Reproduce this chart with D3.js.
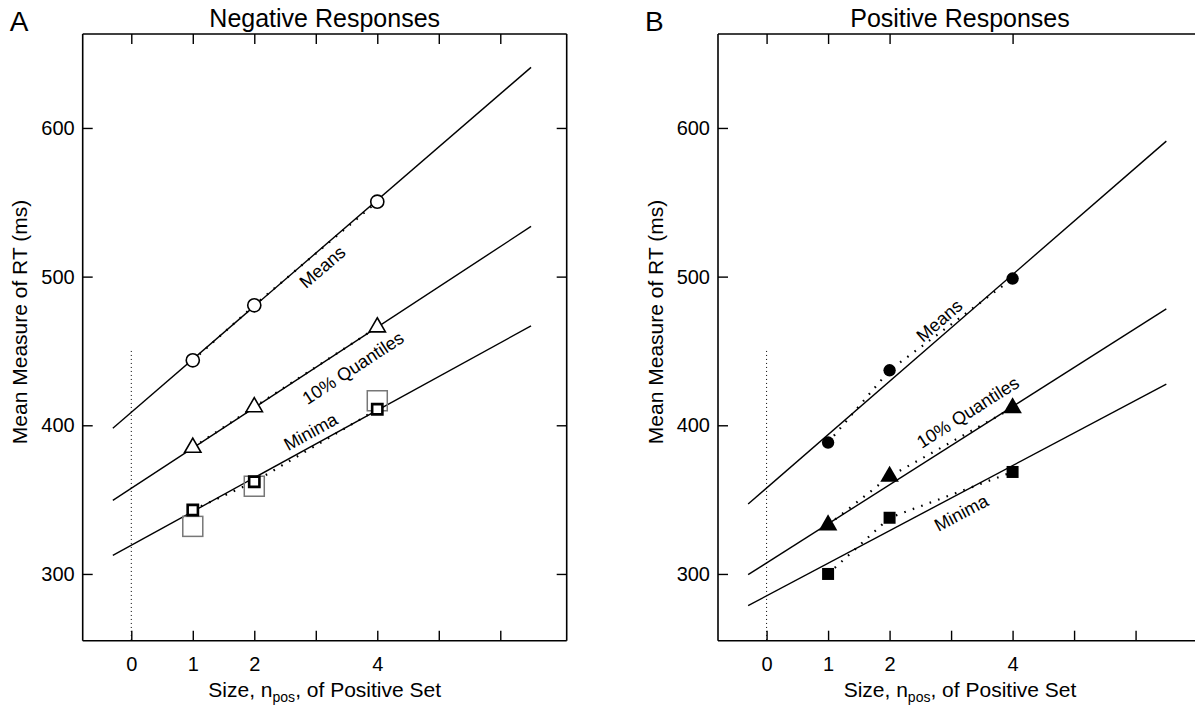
<!DOCTYPE html>
<html>
<head>
<meta charset="utf-8">
<script src="https://cdn.jsdelivr.net/npm/d3@7"></script>
<style>
  html, body { margin: 0; padding: 0; background: #fff; }
  svg { display: block; font-family: "Liberation Sans", Arial, Helvetica, sans-serif; }
</style>
</head>
<body>
<svg id="chart" width="1195" height="707"></svg>
<script>
// ---------- DATA ----------
const setSizes = [1, 2, 4];
const xTickValues = [0, 1, 2, 3, 4, 5, 6];
const xTickLabels = ["0", "1", "2", "", "4", "", ""];
const yTickValues = [300, 400, 500, 600];

// Panel A: negative responses
const negMeans = [443.7, 480.7, 550.4];
const negQ10 = [385.0, 412.3, 466.0];
const negMinima = [343.0, 362.0, 410.8];
const negMinimaAlt = [332.0, 359.0, 416.5];
// fitted lines [intercept, slope]
const negMeansFit = [408.7, 35.7];
const negQ10Fit = [357.6, 27.1];
const negMinimaFit = [319.3, 22.7];

// Panel B: positive responses
const posMeans = [388.4, 437.0, 498.7];
const posQ10 = [332.9, 365.6, 411.7];
const posMinima = [300.0, 337.8, 368.6];
const posMeansFit = [357.8, 35.9];
const posQ10Fit = [307.4, 26.3];
const posMinimaFit = [285.3, 21.9];

const fitRange = [-0.3, 6.5];
const lineLabels = ["Means", "10% Quantiles", "Minima"];
const zeroLineTop = 450;

// ---------- LAYOUT ----------
const svg = d3.select("#chart");
const xDomain = [-0.79, 7.08];
const yDomain = [255.1, 663.2];
const frameTop = 34, frameBottom = 640.7;

const panels = [
  {
    letter: "A", title: "Negative Responses", left: 82.7, right: 566.7,
    series: [negMeans, negQ10, negMinima], fits: [negMeansFit, negQ10Fit, negMinimaFit],
    alt: negMinimaAlt, filled: false, topTicks: xTickValues,
    labelX: [2.95, 3.42, 3.02], labelOff: [-15, -21, 13], rightAxis: true
  },
  {
    letter: "B", title: "Positive Responses", left: 718, right: 1202,
    series: [posMeans, posQ10, posMinima], fits: [posMeansFit, posQ10Fit, posMinimaFit],
    alt: null, filled: true, topTicks: [0, 1, 2, 4],
    labelX: [2.95, 3.44, 3.03], labelOff: [13, 19, -18], rightAxis: false
  }
];

const shapes = [d3.symbolCircle, d3.symbolTriangle, d3.symbolSquare];

panels.forEach(p => {
  const x = d3.scaleLinear().domain(xDomain).range([p.left, p.right]);
  const y = d3.scaleLinear().domain(yDomain).range([frameBottom, frameTop]);
  const g = svg.append("g");

  // frame
  g.append("line").attr("x1", p.left).attr("x2", p.right).attr("y1", frameBottom).attr("y2", frameBottom)
    .attr("stroke", "#000").attr("stroke-width", 1.6);
  g.append("line").attr("x1", p.left).attr("x2", p.right).attr("y1", frameTop).attr("y2", frameTop)
    .attr("stroke", "#000").attr("stroke-width", 1.6);
  g.append("line").attr("x1", p.left).attr("x2", p.left).attr("y1", frameTop).attr("y2", frameBottom)
    .attr("stroke", "#000").attr("stroke-width", 1.6);
  if (p.rightAxis) {
    g.append("line").attr("x1", p.right).attr("x2", p.right).attr("y1", frameTop).attr("y2", frameBottom)
      .attr("stroke", "#000").attr("stroke-width", 1.6);
  }

  // axes via d3
  const xb = d3.axisBottom(x).tickValues(xTickValues).tickSizeInner(-10).tickSizeOuter(0)
    .tickFormat(d => xTickLabels[xTickValues.indexOf(d)]).tickPadding(16);
  const ax = g.append("g").attr("transform", `translate(0,${frameBottom})`).call(xb);
  ax.select(".domain").remove();
  ax.selectAll("line").attr("stroke", "#000").attr("stroke-width", 1.4);
  ax.selectAll("text").attr("font-size", 20).attr("fill", "#000");

  const xt = d3.axisTop(x).tickValues(p.topTicks).tickSizeInner(-10).tickSizeOuter(0).tickFormat("");
  const axt = g.append("g").attr("transform", `translate(0,${frameTop})`).call(xt);
  axt.select(".domain").remove();
  axt.selectAll("line").attr("stroke", "#000").attr("stroke-width", 1.4);

  const yl = d3.axisLeft(y).tickValues(yTickValues).tickSizeInner(-10).tickSizeOuter(0)
    .tickFormat(d3.format("d")).tickPadding(8);
  const ay = g.append("g").attr("transform", `translate(${p.left},0)`).call(yl);
  ay.select(".domain").remove();
  ay.selectAll("line").attr("stroke", "#000").attr("stroke-width", 1.4);
  ay.selectAll("text").attr("font-size", 20).attr("fill", "#000");

  if (p.rightAxis) {
    const yr = d3.axisRight(y).tickValues(yTickValues).tickSizeInner(-10).tickSizeOuter(0).tickFormat("");
    const ayr = g.append("g").attr("transform", `translate(${p.right},0)`).call(yr);
    ayr.select(".domain").remove();
    ayr.selectAll("line").attr("stroke", "#000").attr("stroke-width", 1.4);
  }

  // titles & labels
  const cx = (p.left + p.right) / 2;
  g.append("text").attr("x", cx).attr("y", 27).attr("text-anchor", "middle")
    .attr("font-size", 25).text(p.title);
  g.append("text").attr("x", p.left - 73).attr("y", 31).attr("font-size", 28).text(p.letter);
  const xl = g.append("text").attr("x", cx).attr("y", 697).attr("text-anchor", "middle").attr("font-size", 21);
  xl.append("tspan").text("Size, n");
  xl.append("tspan").attr("font-size", 14).attr("dy", 5).text("pos");
  xl.append("tspan").attr("dy", -5).text(", of Positive Set");
  g.append("text").attr("transform", `translate(${p.left - 63},322) rotate(-90)`)
    .attr("text-anchor", "middle").attr("dominant-baseline", "central").attr("font-size", 21)
    .text("Mean Measure of RT (ms)");

  // dotted zero line
  g.append("line").attr("x1", x(0)).attr("x2", x(0)).attr("y1", y(zeroLineTop)).attr("y2", frameBottom)
    .attr("stroke", "#000").attr("stroke-width", 1).attr("stroke-dasharray", "1,3");

  // fitted lines
  p.fits.forEach(f => {
    g.append("line")
      .attr("x1", x(fitRange[0])).attr("y1", y(f[0] + f[1] * fitRange[0]))
      .attr("x2", x(fitRange[1])).attr("y2", y(f[0] + f[1] * fitRange[1]))
      .attr("stroke", "#000").attr("stroke-width", 1.4);
  });

  // dotted connections through data
  const conn = d3.line().x((d, i) => x(setSizes[i])).y(d => y(d));
  p.series.forEach(s => {
    g.append("path").attr("d", conn(s)).attr("fill", "none").attr("stroke", "#000")
      .attr("stroke-width", 2.2).attr("stroke-dasharray", "1.6,7.4");
  });

  // alt (gray) squares
  if (p.alt) {
    g.selectAll(null).data(p.alt).enter().append("rect")
      .attr("x", (d, i) => x(setSizes[i]) - 10).attr("y", d => y(d) - 10)
      .attr("width", 20).attr("height", 20)
      .attr("fill", "none").attr("stroke", "#777").attr("stroke-width", 1.5);
  }

  // markers
  p.series.forEach((s, k) => {
    let size, sw;
    if (p.filled) { size = [120, 150, 144][k]; sw = 0; }
    else { size = [135, 115, 105][k]; sw = [1.6, 1.6, 2.6][k]; }
    g.selectAll(null).data(s).enter().append("path")
      .attr("d", d3.symbol().type(shapes[k]).size(size))
      .attr("transform", (d, i) => `translate(${x(setSizes[i])},${y(d)})`)
      .attr("fill", p.filled ? "#000" : "#fff")
      .attr("stroke", "#000").attr("stroke-width", sw);
  });

  // line labels
  p.fits.forEach((f, k) => {
    const lx = p.labelX[k];
    const px = x(lx), py = y(f[0] + f[1] * lx);
    const dx = x(lx + 1) - x(lx), dy = y(f[0] + f[1] * (lx + 1)) - py;
    const L = Math.hypot(dx, dy);
    const nx = dy / L, ny = -dx / L;
    const off = p.labelOff[k];
    const ang = Math.atan2(dy, dx) * 180 / Math.PI;
    g.append("text")
      .attr("transform", `translate(${px + nx * off},${py + ny * off}) rotate(${ang})`)
      .attr("text-anchor", "middle").attr("dominant-baseline", "central")
      .attr("font-size", 18).text(lineLabels[k]);
  });
});
</script>
</body>
</html>
